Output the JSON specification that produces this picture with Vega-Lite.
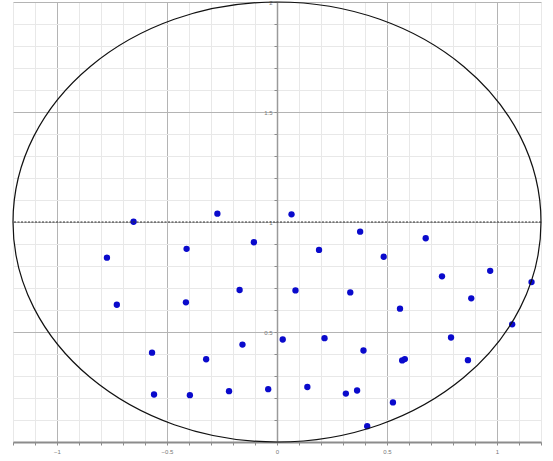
{
  "$schema": "https://vega.github.io/schema/vega-lite/v6.json",
  "autosize": "none",
  "padding": {"left": 13, "top": 2, "right": 12, "bottom": 19},
  "width": 528,
  "height": 440,
  "background": "white",
  "config": {"view": {"stroke": null}},
  "datasets": {
    "pts": [
      {"x": -0.652, "y": 1.001}, {"x": -0.773, "y": 0.838}, {"x": -0.411, "y": 0.878},
      {"x": -0.105, "y": 0.908}, {"x": -0.728, "y": 0.624}, {"x": -0.414, "y": 0.635},
      {"x": -0.170, "y": 0.691}, {"x": -0.568, "y": 0.406}, {"x": -0.322, "y": 0.376},
      {"x": -0.157, "y": 0.443}, {"x": -0.559, "y": 0.216}, {"x": -0.396, "y": 0.213},
      {"x": -0.218, "y": 0.231}, {"x": -0.040, "y": 0.240}, {"x": -0.271, "y": 1.038},
      {"x": 0.066, "y": 1.035}, {"x": 0.378, "y": 0.956}, {"x": 0.676, "y": 0.926},
      {"x": 0.191, "y": 0.873}, {"x": 0.485, "y": 0.842}, {"x": 0.750, "y": 0.753},
      {"x": 0.969, "y": 0.778}, {"x": 1.157, "y": 0.727}, {"x": 0.084, "y": 0.689},
      {"x": 0.333, "y": 0.680}, {"x": 0.883, "y": 0.653}, {"x": 0.559, "y": 0.606},
      {"x": 1.069, "y": 0.535}, {"x": 0.026, "y": 0.466}, {"x": 0.216, "y": 0.472},
      {"x": 0.791, "y": 0.475}, {"x": 0.393, "y": 0.416}, {"x": 0.569, "y": 0.371},
      {"x": 0.581, "y": 0.377}, {"x": 0.868, "y": 0.372}, {"x": 0.138, "y": 0.250},
      {"x": 0.313, "y": 0.220}, {"x": 0.364, "y": 0.234}, {"x": 0.527, "y": 0.180},
      {"x": 0.410, "y": 0.072}
    ],
    "centre": [{"x": 0, "y": 1}]
  },
  "encoding": {
    "x": {
      "field": "x", "type": "quantitative",
      "scale": {"domain": [-1.2, 1.2], "nice": false, "zero": false},
      "axis": {
        "title": null,
        "values": [-1.2,-1.1,-1,-0.9,-0.8,-0.7,-0.6,-0.5,-0.4,-0.3,-0.2,-0.1,0,0.1,0.2,0.3,0.4,0.5,0.6,0.7,0.8,0.9,1,1.1,1.2],
        "tickCount": 60,
        "format": "~g",
        "labelExpr": "abs(datum.value*2 - round(datum.value*2)) < 0.000001 && abs(datum.value) <= 1 ? datum.label : ''",
        "labelOverlap": false,
        "grid": true,
        "gridColor": {"condition": {"test": "abs(datum.value*2 - round(datum.value*2)) < 0.000001", "value": "#b4b4b4"}, "value": "#e8e8e8"},
        "gridWidth": 1,
        "domainColor": "#8c8c8c",
        "domainWidth": 2,
        "tickColor": "#8c8c8c",
        "tickSize": 3,
        "labelFontSize": 6,
        "labelColor": "#777777",
        "labelPadding": 3,
        "labelFlush": false
      }
    },
    "y": {
      "field": "y", "type": "quantitative",
      "scale": {"domain": [0, 2], "nice": false, "zero": false},
      "axis": {
        "title": null,
        "orient": "left",
        "offset": -264,
        "values": [0,0.1,0.2,0.3,0.4,0.5,0.6,0.7,0.8,0.9,1,1.1,1.2,1.3,1.4,1.5,1.6,1.7,1.8,1.9,2],
        "tickCount": 60,
        "format": "~g",
        "labelExpr": "abs(datum.value*2 - round(datum.value*2)) < 0.000001 && datum.value > 0 ? datum.label : ''",
        "labelOverlap": false,
        "grid": true,
        "gridColor": {"condition": {"test": "abs(datum.value*2 - round(datum.value*2)) < 0.000001", "value": "#b4b4b4"}, "value": "#e8e8e8"},
        "gridWidth": 1,
        "domainColor": "#9a9a9a",
        "domainWidth": 1.5,
        "tickColor": "#8c8c8c",
        "tickSize": 3,
        "labelFontSize": 6,
        "labelColor": "#777777",
        "labelPadding": 2,
        "labelFlush": false
      }
    }
  },
  "layer": [
    {
      "data": {"name": "pts"},
      "mark": {"type": "point", "filled": true, "opacity": 1, "color": "#0a0acc", "size": 40}
    },
    {
      "data": {"name": "centre"},
      "mark": {"type": "rule", "color": "#333333", "strokeWidth": 1, "strokeDash": [2, 1.5]},
      "encoding": {"x": null}
    },
    {
      "data": {"name": "centre"},
      "mark": {
        "type": "point",
        "shape": "M -1.2 0 A 1.2 1 0 1 1 1.2 0 A 1.2 1 0 1 1 -1.2 0 Z",
        "size": 193600,
        "filled": false,
        "stroke": "#111111",
        "strokeWidth": 1.2,
        "opacity": 1
      }
    }
  ]
}
